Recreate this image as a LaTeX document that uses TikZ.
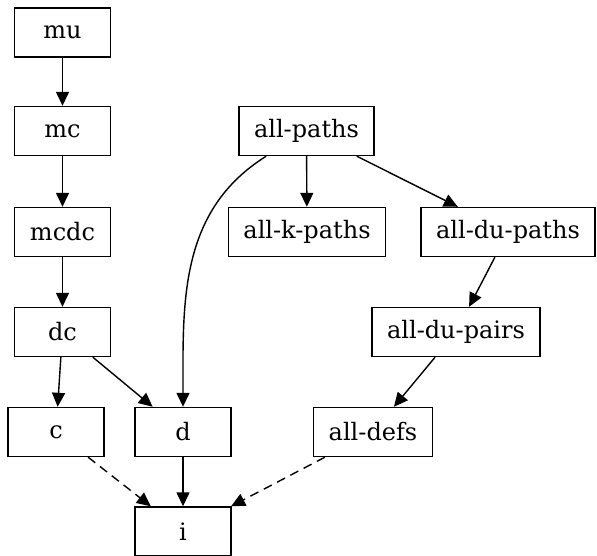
\documentclass[tikz,border=0pt]{standalone}
\usepackage{fontspec}
\setmainfont{DejaVu Serif}
\usepackage{tikz}
\usetikzlibrary{arrows.meta}
\tikzset{arrow/.style={-{Triangle[length=14pt,width=13pt]}, line width=1.4pt}}
\tikzset{box/.style={draw, line width=1.4pt, rectangle, minimum width=96pt, minimum height=49pt, inner xsep=15pt, font=\fontsize{24}{28}\selectfont}}

\begin{document}
\begin{tikzpicture}[x=1pt, y=-1pt]
    \useasboundingbox (0, 0) rectangle (597, 556);
    \node[box] (mu) at (62.5, 32.5) {mu};
    \node[box] (mc) at (62.5, 131) {mc};
    \node[box] (mcdc) at (62.5, 232) {mcdc};
    \node[box] (dc) at (62.5, 332) {dc};
    \node[box] (c) at (56, 432) {c};
    \node[box] (d) at (183, 432) {d};
    \node[box] (i) at (183, 531.5) {i};
    \node[box] (allpaths) at (306.5, 131) {all-paths};
    \node[box] (allkpaths) at (307, 232) {all-k-paths};
    \node[box] (alldupaths) at (508, 232) {all-du-paths};
    \node[box] (alldupairs) at (456, 332) {all-du-pairs};
    \node[box] (alldefs) at (373, 432) {all-defs};
    \draw[arrow] (mu) to (mc);
    \draw[arrow] (mc) to (mcdc);
    \draw[arrow] (mcdc) to (dc);
    \draw[arrow] (dc) to (c);
    \draw[arrow] (dc) to (d);
    \draw[arrow] (d) to (i);
    \draw[arrow, dashed, dash pattern=on 9pt off 6pt] (c) to (i);
    \draw[arrow, dashed, dash pattern=on 9pt off 6pt] (alldefs) to (i);
    \draw[arrow] (allpaths) to (allkpaths);
    \draw[arrow] (allpaths) to (alldupaths);
    \draw[arrow] (allpaths) to[out=212, in=90] (d);
    \draw[arrow] (alldupaths) to (alldupairs);
    \draw[arrow] (alldupairs) to (alldefs);
  \end{tikzpicture}
\end{document}
